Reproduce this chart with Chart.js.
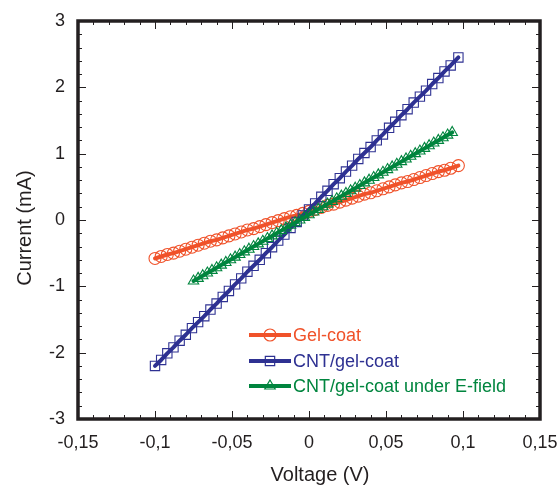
<!DOCTYPE html>
<html>
<head>
<meta charset="utf-8">
<script src="https://cdn.jsdelivr.net/npm/chart.js@4.4.1/dist/chart.umd.min.js"></script>
<style>
  html, body { margin: 0; padding: 0; background: #fff; }
  #wrap { width: 558px; height: 485px; }
</style>
</head>
<body>
<div id="wrap"><canvas id="graphique" width="558" height="485"></canvas></div>
<script>
// tension commune (V) pour gel-coat et CNT/gel-coat
const voltage = [-0.100,-0.096,-0.092,-0.088,-0.084,-0.080,-0.076,-0.072,-0.068,-0.064,-0.060,-0.056,-0.052,-0.048,-0.044,-0.040,-0.036,-0.032,-0.028,-0.024,-0.020,-0.016,-0.012,-0.008,-0.004,0.000,0.004,0.008,0.012,0.016,0.020,0.024,0.028,0.032,0.036,0.040,0.044,0.048,0.052,0.056,0.060,0.064,0.068,0.072,0.076,0.080,0.084,0.088,0.092,0.097];
const gelCoat = [-0.58,-0.55,-0.52,-0.50,-0.47,-0.44,-0.41,-0.38,-0.35,-0.32,-0.30,-0.27,-0.24,-0.21,-0.18,-0.15,-0.13,-0.10,-0.07,-0.04,-0.01,0.02,0.05,0.07,0.10,0.13,0.16,0.19,0.22,0.24,0.27,0.30,0.33,0.36,0.39,0.41,0.44,0.47,0.50,0.53,0.56,0.58,0.61,0.64,0.67,0.70,0.73,0.75,0.78,0.82];
const cntGelCoat = [-2.20,-2.11,-2.01,-1.92,-1.82,-1.73,-1.63,-1.54,-1.45,-1.35,-1.26,-1.16,-1.07,-0.97,-0.88,-0.78,-0.69,-0.60,-0.50,-0.41,-0.31,-0.22,-0.12,-0.03,0.07,0.16,0.25,0.35,0.44,0.54,0.63,0.73,0.82,0.92,1.01,1.10,1.20,1.29,1.39,1.48,1.58,1.67,1.77,1.86,1.95,2.05,2.14,2.24,2.33,2.45];
// tension (V) pour la mesure sous champ electrique
const voltageField = [-0.075,-0.072,-0.069,-0.066,-0.063,-0.060,-0.057,-0.054,-0.051,-0.048,-0.045,-0.042,-0.039,-0.036,-0.033,-0.030,-0.027,-0.024,-0.021,-0.018,-0.015,-0.012,-0.009,-0.006,-0.003,0.000,0.003,0.006,0.009,0.012,0.015,0.018,0.021,0.024,0.027,0.030,0.033,0.036,0.039,0.042,0.045,0.048,0.051,0.054,0.057,0.060,0.063,0.066,0.069,0.072,0.075,0.078,0.081,0.084,0.087,0.090,0.093];
const cntField = [-0.92,-0.88,-0.84,-0.80,-0.76,-0.72,-0.68,-0.64,-0.60,-0.56,-0.52,-0.48,-0.44,-0.40,-0.36,-0.32,-0.28,-0.24,-0.20,-0.16,-0.12,-0.08,-0.04,0.00,0.04,0.08,0.12,0.16,0.20,0.24,0.28,0.32,0.36,0.40,0.44,0.48,0.52,0.56,0.60,0.64,0.68,0.72,0.76,0.80,0.84,0.88,0.92,0.96,1.00,1.04,1.08,1.12,1.16,1.20,1.24,1.28,1.32];

const seriesNames = ['Gel-coat', 'CNT/gel-coat', 'CNT/gel-coat under E-field'];
const xTicks = [-0.15, -0.1, -0.05, 0, 0.05, 0.1, 0.15];
const xTickLabels = ['-0,15', '-0,1', '-0,05', '0', '0,05', '0,1', '0,15'];
const yTicks = [-3, -2, -1, 0, 1, 2, 3];
const yTickLabels = ['-3', '-2', '-1', '0', '1', '2', '3'];

const couleurs = ['rgb(240,82,42)', 'rgb(46,49,146)', 'rgb(0,133,62)'];
const styles = ['circle', 'rect', 'triangle'];
const rayons = [6, 6.6, 6];
const police = '"Liberation Sans", Arial, sans-serif';

function points(xs, ys) {
    return xs.map((x, i) => ({ x: x, y: ys[i] }));
}

// cadre, graduations interieures, legende et titres des axes
const cadrePlugin = {
    id: 'cadre',
    afterDraw(chart) {
        const ctx = chart.ctx;
        const a = chart.chartArea;
        const sx = chart.scales.x, sy = chart.scales.y;
        ctx.save();
        ctx.strokeStyle = '#231f20';
        ctx.lineWidth = 1;
        // graduations x tous les 0,01
        for (let k = -15; k <= 15; k++) {
            const px = Math.round(sx.getPixelForValue(k / 100)) + 0.5;
            const len = (k % 5 === 0) ? 8 : 4;
            ctx.beginPath();
            ctx.moveTo(px, a.bottom); ctx.lineTo(px, a.bottom - len);
            ctx.moveTo(px, a.top); ctx.lineTo(px, a.top + len);
            ctx.stroke();
        }
        // graduations y tous les 0,2
        for (let k = -15; k <= 15; k++) {
            const py = Math.round(sy.getPixelForValue(k / 5)) + 0.5;
            const len = (k % 5 === 0) ? 8 : 4;
            ctx.beginPath();
            ctx.moveTo(a.left, py); ctx.lineTo(a.left + len, py);
            ctx.moveTo(a.right, py); ctx.lineTo(a.right - len, py);
            ctx.stroke();
        }
        ctx.lineWidth = 3.5;
        ctx.strokeRect(a.left, a.top, a.right - a.left, a.bottom - a.top);

        // legende
        ctx.font = '18px ' + police;
        ctx.textBaseline = 'middle';
        ctx.textAlign = 'left';
        const lx = 249, ly = [335, 361, 386];
        chart.data.datasets.forEach((ds, i) => {
            ctx.strokeStyle = ds.borderColor;
            ctx.lineWidth = 4;
            ctx.beginPath();
            ctx.moveTo(lx, ly[i]); ctx.lineTo(lx + 42, ly[i]);
            ctx.stroke();
            ctx.lineWidth = 1.2;
            ctx.fillStyle = 'rgba(0,0,0,0)';
            Chart.helpers.drawPoint(ctx, {
                pointStyle: ds.pointStyle, radius: ds.pointRadius,
                borderWidth: 1.2, rotation: 0
            }, lx + 21, ly[i]);
            ctx.fillStyle = ds.borderColor;
            ctx.fillText(ds.label, lx + 44, ly[i] + 1);
        });

        // titres des axes
        ctx.fillStyle = '#231f20';
        ctx.font = '20px ' + police;
        ctx.textAlign = 'center';
        ctx.fillText('Voltage (V)', 320, 475);
        ctx.translate(25, 228);
        ctx.rotate(-Math.PI / 2);
        ctx.fillText('Current (mA)', 0, 0);
        ctx.restore();
    }
};

const jeux = [
    [voltage, gelCoat],
    [voltage, cntGelCoat],
    [voltageField, cntField]
];

const datasets = jeux.map((j, i) => ({
    label: seriesNames[i],
    data: points(j[0], j[1]),
    borderColor: couleurs[i],
    backgroundColor: 'rgba(0,0,0,0)',
    borderWidth: 4,
    pointStyle: styles[i],
    pointRadius: rayons[i],
    pointBorderWidth: 1.1,
    pointBorderColor: couleurs[i],
    pointBackgroundColor: 'rgba(0,0,0,0)',
    order: 3 - i,
    tension: 0
}));

const ctx = document.getElementById('graphique').getContext('2d');
const myChart = new Chart(ctx, {
    type: 'scatter',
    data: { datasets: datasets },
    options: {
        responsive: false,
        animation: false,
        showLine: true,
        layout: { autoPadding: false, padding: { top: 21, right: 18, left: 0, bottom: 0 } },
        plugins: { legend: { display: false }, tooltip: { enabled: false } },
        elements: { line: { borderJoinStyle: 'round', borderCapStyle: 'round' } },
        scales: {
            x: {
                type: 'linear', min: -0.15, max: 0.15,
                afterBuildTicks: s => { s.ticks = xTicks.map(v => ({ value: v })); },
                afterFit: s => { s.height = 66; s.paddingLeft = 0; s.paddingRight = 0; },
                grid: { display: false, drawTicks: false },
                border: { display: false },
                ticks: {
                    color: '#231f20', padding: 13,
                    font: { family: police, size: 18 },
                    callback: (v, i) => xTickLabels[i]
                }
            },
            y: {
                type: 'linear', min: -3, max: 3,
                afterBuildTicks: s => { s.ticks = yTicks.map(v => ({ value: v })); },
                afterFit: s => { s.width = 78; s.paddingTop = 0; s.paddingBottom = 0; },
                grid: { display: false, drawTicks: false },
                border: { display: false },
                ticks: {
                    color: '#231f20', padding: 13,
                    font: { family: police, size: 18 },
                    callback: (v, i) => yTickLabels[i]
                }
            }
        }
    },
    plugins: [cadrePlugin]
});
</script>
</body>
</html>
